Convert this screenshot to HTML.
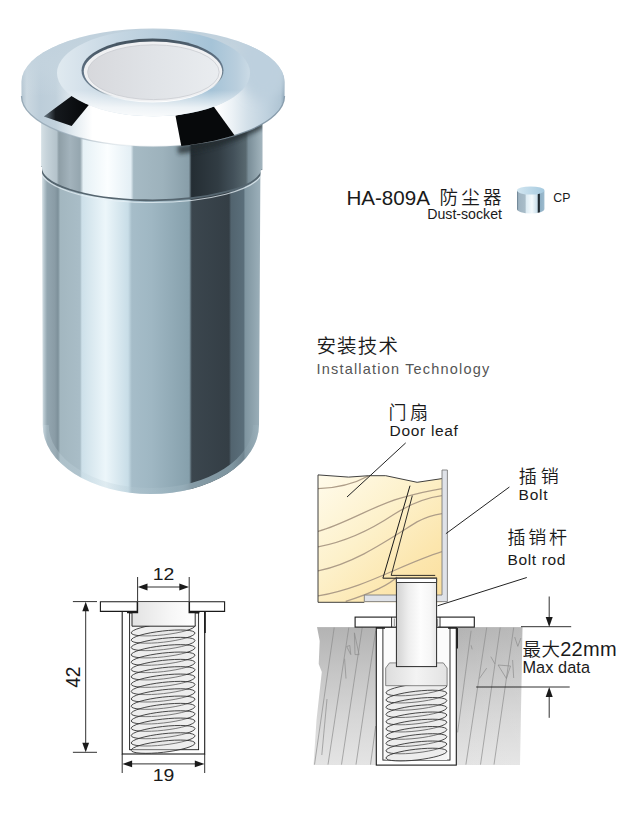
<!DOCTYPE html>
<html lang="zh">
<head>
<meta charset="utf-8">
<title>HA-809A 防尘器 Dust-socket</title>
<style>
html,body{margin:0;padding:0;background:#fff;}
body{width:630px;height:820px;overflow:hidden;position:relative;}
svg{position:absolute;left:0;top:0;display:block;}
text{font-family:"Liberation Sans","Noto Sans CJK SC",sans-serif;fill:#1a1a1a;}
.cj{font-family:"Liberation Sans","Noto Sans CJK SC",sans-serif;font-weight:350;}
</style>
</head>
<body>
<svg width="630" height="820" viewBox="0 0 630 820">
<defs>
<linearGradient id="gBody" gradientUnits="userSpaceOnUse" x1="41.6" y1="0" x2="260.6" y2="0">
<stop offset="0" stop-color="#dfe8ec"/>
<stop offset="0.012" stop-color="#b6c6ce"/>
<stop offset="0.025" stop-color="#93a6b0"/>
<stop offset="0.06" stop-color="#8a9ca6"/>
<stop offset="0.075" stop-color="#7d909a"/>
<stop offset="0.085" stop-color="#a3b7c0"/>
<stop offset="0.176" stop-color="#a9bdc7"/>
<stop offset="0.184" stop-color="#cde0e9"/>
<stop offset="0.292" stop-color="#ecf6fa"/>
<stop offset="0.395" stop-color="#c8dde7"/>
<stop offset="0.412" stop-color="#a6bdc9"/>
<stop offset="0.5" stop-color="#9fb7c3"/>
<stop offset="0.674" stop-color="#86a0ac"/>
<stop offset="0.686" stop-color="#3b464e"/>
<stop offset="0.856" stop-color="#343e45"/>
<stop offset="0.865" stop-color="#52646f"/>
<stop offset="0.922" stop-color="#5a6e7a"/>
<stop offset="0.93" stop-color="#7f95a0"/>
<stop offset="1" stop-color="#9cb0ba"/>
</linearGradient>
<linearGradient id="gNeck" gradientUnits="userSpaceOnUse" x1="41.2" y1="0" x2="262.4" y2="0">
<stop offset="0" stop-color="#d5e0e5"/>
<stop offset="0.025" stop-color="#c6d3da"/>
<stop offset="0.07" stop-color="#b4c3cb"/>
<stop offset="0.08" stop-color="#8e9ea6"/>
<stop offset="0.13" stop-color="#a3b3bc"/>
<stop offset="0.176" stop-color="#95a6af"/>
<stop offset="0.19" stop-color="#e6f1f6"/>
<stop offset="0.3" stop-color="#fbfeff"/>
<stop offset="0.405" stop-color="#e4eff5"/>
<stop offset="0.418" stop-color="#a6bac4"/>
<stop offset="0.55" stop-color="#9db2bc"/>
<stop offset="0.668" stop-color="#889ea9"/>
<stop offset="0.68" stop-color="#242d33"/>
<stop offset="0.8" stop-color="#313c43"/>
<stop offset="0.87" stop-color="#43515a"/>
<stop offset="0.925" stop-color="#58686f"/>
<stop offset="0.937" stop-color="#7a8e98"/>
<stop offset="1" stop-color="#a3b5be"/>
</linearGradient>
<linearGradient id="gRing" gradientUnits="userSpaceOnUse" x1="57" y1="0" x2="250" y2="0">
<stop offset="0" stop-color="#e0eaf0"/>
<stop offset="0.12" stop-color="#d6e2eb"/>
<stop offset="0.3" stop-color="#c6d7e3"/>
<stop offset="0.55" stop-color="#b6ccdb"/>
<stop offset="0.8" stop-color="#a5c3d7"/>
<stop offset="0.93" stop-color="#b9cedd"/>
<stop offset="1" stop-color="#cbdbe6"/>
</linearGradient>
<linearGradient id="gRingV" gradientUnits="userSpaceOnUse" x1="0" y1="30" x2="0" y2="116">
<stop offset="0" stop-color="#ffffff" stop-opacity="0"/>
<stop offset="0.7" stop-color="#ffffff" stop-opacity="0"/>
<stop offset="0.9" stop-color="#ffffff" stop-opacity="0.75"/>
<stop offset="1" stop-color="#ffffff" stop-opacity="0.9"/>
</linearGradient>
<linearGradient id="gFl" gradientUnits="userSpaceOnUse" x1="21.5" y1="0" x2="284.5" y2="0">
<stop offset="0" stop-color="#b2c3cf"/>
<stop offset="0.02" stop-color="#cbd8e1"/>
<stop offset="0.07" stop-color="#bccdd9"/>
<stop offset="0.13" stop-color="#c1d1dc"/>
<stop offset="0.2" stop-color="#e4ecf1"/>
<stop offset="0.27" stop-color="#ffffff"/>
<stop offset="0.74" stop-color="#ffffff"/>
<stop offset="0.80" stop-color="#ecf2f6"/>
<stop offset="0.86" stop-color="#d3e0e9"/>
<stop offset="0.93" stop-color="#c0d2df"/>
<stop offset="0.985" stop-color="#b0c5d4"/>
<stop offset="1" stop-color="#8fa6b8"/>
</linearGradient>
<linearGradient id="gDisc" gradientUnits="userSpaceOnUse" x1="82" y1="0" x2="223" y2="0">
<stop offset="0" stop-color="#d6d7db"/>
<stop offset="0.5" stop-color="#e0e3e7"/>
<stop offset="1" stop-color="#eaedf0"/>
</linearGradient>
<linearGradient id="gDiscRim" gradientUnits="userSpaceOnUse" x1="150" y1="38" x2="156" y2="103">
<stop offset="0" stop-color="#44535f"/>
<stop offset="0.5" stop-color="#64778a"/>
<stop offset="0.7" stop-color="#6f828f"/>
<stop offset="0.84" stop-color="#e6edf1"/>
<stop offset="1" stop-color="#ffffff"/>
</linearGradient>
<linearGradient id="gPatchL" gradientUnits="userSpaceOnUse" x1="44" y1="0" x2="90" y2="0">
<stop offset="0" stop-color="#6a7a86"/>
<stop offset="0.25" stop-color="#15191d"/>
<stop offset="1" stop-color="#050608"/>
</linearGradient>
<clipPath id="cBody"><path d="M41.2,100 L41.2,166 L42,167 L42.7,425 A108.15,69 0 0 0 259,425 L260.4,170.5 L262.4,169.5 L262.4,100 Z"/></clipPath>
<linearGradient id="gSw" gradientUnits="userSpaceOnUse" x1="517" y1="0" x2="544.4" y2="0">
<stop offset="0" stop-color="#62788a"/>
<stop offset="0.06" stop-color="#9fb4c2"/>
<stop offset="0.3" stop-color="#a9bdc9"/>
<stop offset="0.33" stop-color="#dcebf3"/>
<stop offset="0.55" stop-color="#f4fafd"/>
<stop offset="0.74" stop-color="#c8dde9"/>
<stop offset="0.77" stop-color="#1d262d"/>
<stop offset="0.82" stop-color="#28333b"/>
<stop offset="0.85" stop-color="#8fb0c5"/>
<stop offset="1" stop-color="#9dbbce"/>
</linearGradient>
<linearGradient id="gSwTop" gradientUnits="userSpaceOnUse" x1="517" y1="0" x2="544.4" y2="0">
<stop offset="0" stop-color="#d2e6f1"/>
<stop offset="1" stop-color="#a6cadf"/>
</linearGradient>
<linearGradient id="gWood" gradientUnits="userSpaceOnUse" x1="325" y1="478" x2="440" y2="598">
<stop offset="0" stop-color="#fffae8"/>
<stop offset="0.4" stop-color="#fdf1cb"/>
<stop offset="0.75" stop-color="#fce6ae"/>
<stop offset="1" stop-color="#fbdf9e"/>
</linearGradient>
<linearGradient id="gRod" gradientUnits="userSpaceOnUse" x1="396.6" y1="0" x2="436.6" y2="0">
<stop offset="0" stop-color="#d2d2d2"/>
<stop offset="0.3" stop-color="#eeeeee"/>
<stop offset="0.6" stop-color="#fdfdfd"/>
<stop offset="0.85" stop-color="#f6f6f6"/>
<stop offset="1" stop-color="#e6e6e6"/>
</linearGradient>
<linearGradient id="gFloor" gradientUnits="userSpaceOnUse" x1="0" y1="627" x2="0" y2="765">
<stop offset="0" stop-color="#b3b3b3"/>
<stop offset="0.3" stop-color="#c4c4c4"/>
<stop offset="0.65" stop-color="#d6d6d6"/>
<stop offset="1" stop-color="#e4e4e4"/>
</linearGradient>
<linearGradient id="gFloorR" gradientUnits="userSpaceOnUse" x1="456" y1="0" x2="522" y2="0">
<stop offset="0" stop-color="#ffffff" stop-opacity="0"/>
<stop offset="1" stop-color="#ffffff" stop-opacity="0.08"/>
</linearGradient>
<linearGradient id="gPl" gradientUnits="userSpaceOnUse" x1="385" y1="0" x2="448" y2="0">
<stop offset="0" stop-color="#dcdcdc"/>
<stop offset="0.5" stop-color="#f3f3f3"/>
<stop offset="1" stop-color="#e2e2e2"/>
</linearGradient>
<clipPath id="cWood"><path d="M318,474.9 L348.6,477.1 L368.6,475.7 L385.7,475.7 L417.1,482.3 L442,478.6 L442,602.3 L318,602.3 Z"/></clipPath>
<clipPath id="cFloor"><path d="M317,627.1 L522.5,627.1 L520,765 L313.5,765 L316.5,720 L321.8,672 L318.7,664 L319.7,641 Z"/></clipPath>
<linearGradient id="gPl2" gradientUnits="userSpaceOnUse" x1="132" y1="0" x2="195" y2="0">
<stop offset="0" stop-color="#e3e3e3"/>
<stop offset="0.6" stop-color="#f6f6f6"/>
<stop offset="1" stop-color="#ffffff"/>
</linearGradient>
<filter id="fBlur" x="-50%" y="-50%" width="200%" height="200%"><feGaussianBlur stdDeviation="6"/></filter>
<clipPath id="cFl"><path d="M21.5,82 A131.5,53.5 0 0 1 284.5,82 L284.5,96 A131.5,50.5 0 0 1 21.5,96 Z"/></clipPath>
<filter id="fBlur2" x="-20%" y="-100%" width="140%" height="300%"><feGaussianBlur stdDeviation="2"/></filter>
<linearGradient id="gEdge" gradientUnits="userSpaceOnUse" x1="21.5" y1="0" x2="284.5" y2="0">
<stop offset="0" stop-color="#8ea2b0" stop-opacity="0.9"/>
<stop offset="0.25" stop-color="#9aabb7" stop-opacity="0.6"/>
<stop offset="0.4" stop-color="#c5d0d8" stop-opacity="0.25"/>
<stop offset="0.58" stop-color="#c5d0d8" stop-opacity="0.25"/>
<stop offset="0.8" stop-color="#6d808d" stop-opacity="0.8"/>
<stop offset="1" stop-color="#8197a8" stop-opacity="0.9"/>
</linearGradient>
<linearGradient id="gRim" gradientUnits="userSpaceOnUse" x1="42" y1="0" x2="260" y2="0">
<stop offset="0" stop-color="#cfe0e8" stop-opacity="0.25"/>
<stop offset="0.62" stop-color="#a9bfca" stop-opacity="0.3"/>
<stop offset="0.68" stop-color="#8aa0ab" stop-opacity="0.95"/>
<stop offset="0.87" stop-color="#8299a4" stop-opacity="0.95"/>
<stop offset="0.93" stop-color="#8aa0ab" stop-opacity="0.4"/>
<stop offset="1" stop-color="#a9bfca" stop-opacity="0.2"/>
</linearGradient>
<linearGradient id="gFlV" gradientUnits="userSpaceOnUse" x1="0" y1="28" x2="0" y2="96">
<stop offset="0" stop-color="#bfd0dc" stop-opacity="1"/>
<stop offset="0.45" stop-color="#c3d3de" stop-opacity="0.95"/>
<stop offset="0.75" stop-color="#c8d7e1" stop-opacity="0.35"/>
<stop offset="1" stop-color="#d0dde6" stop-opacity="0"/>
</linearGradient>
<!--DEFS-->
</defs>
<rect width="630" height="820" fill="#ffffff"/>
<g id="product">
<!-- body -->
<path d="M41.2,100 L41.2,166 L42,167 L42.7,425 A108.15,69 0 0 0 259,425 L260.4,170.5 L262.4,169.5 L262.4,100 Z" fill="url(#gBody)"/>
<g clip-path="url(#cBody)">
<!-- neck -->
<path d="M41.2,100 L41.2,166 A110.6,32.5 0 0 0 262.4,169.5 L262.4,100 Z" fill="url(#gNeck)"/>
<path d="M41.2,166 A110.6,32.5 0 0 0 262.4,169.5" fill="none" stroke="#55656f" stroke-width="1.8"/>
<path d="M41.2,168.2 A110.6,32.5 0 0 0 262.4,171.7" fill="none" stroke="#e8f2f7" stroke-width="1.1" opacity="0.75"/>
<path d="M178,150 C205,147 235,139 262,124" fill="none" stroke="#20292f" stroke-width="8" opacity="0.75" filter="url(#fBlur2)"/>
<!-- bottom rim light -->
<path d="M42.7,425 A108.15,69 0 0 0 259,425" fill="none" stroke="url(#gRim)" stroke-width="12"/>
</g>
<!-- flange -->
<path d="M21.5,82 A131.5,53.5 0 0 1 284.5,82 L284.5,96 A131.5,50.5 0 0 1 21.5,96 Z" fill="url(#gFl)"/>
<path d="M21.5,96 A131.5,50.5 0 0 0 284.5,96" fill="none" stroke="url(#gEdge)" stroke-width="1.3"/>
<path d="M21.5,82 A131.5,53.5 0 0 1 284.5,82 L284.5,96 A131.5,50.5 0 0 1 21.5,96 Z" fill="url(#gFlV)"/>
<g clip-path="url(#cFl)"><ellipse cx="263" cy="66" rx="24" ry="34" fill="#bdd0de" filter="url(#fBlur)"/></g>
<!-- dark reflections -->
<path d="M71.6,95.9 L89.8,103.8 L71.6,126 L43.8,116.5 Z" fill="url(#gPatchL)"/>
<path d="M175.5,115.8 L213.7,106.5 L234.5,135.3 C216,141 199,144.2 181.3,146 Z" fill="#07090b"/>
<!-- flat ring -->
<ellipse cx="153.5" cy="73" rx="96.5" ry="43.3" fill="url(#gRing)"/>
<ellipse cx="153.5" cy="73" rx="96.5" ry="43.3" fill="url(#gRingV)"/>
<!-- disc -->
<ellipse cx="152.5" cy="70.6" rx="71" ry="32" fill="url(#gDiscRim)"/>
<ellipse cx="153" cy="71.5" rx="69.2" ry="30" fill="#eff0f2"/>
<ellipse cx="153.4" cy="72.2" rx="65.8" ry="27.4" fill="url(#gDisc)" stroke="#c9ccd1" stroke-width="0.8"/>
</g>

<g id="title">
<text x="346.4" y="204.6" font-size="20" textLength="83.6" lengthAdjust="spacingAndGlyphs">HA-809A</text>
<text class="cj" x="439.6" y="203.6" font-size="18.5" textLength="62" lengthAdjust="spacing">防尘器</text>
<text x="427.2" y="218.6" font-size="14" textLength="74.8" lengthAdjust="spacingAndGlyphs">Dust-socket</text>
<text x="553.3" y="202.1" font-size="12" textLength="17.1" lengthAdjust="spacingAndGlyphs">CP</text>
<!-- finish swatch icon -->
<g id="swatch">
<path d="M517,190.7 L517,209 A13.7,4.6 0 0 0 544.4,209 L544.4,190.7 Z" fill="url(#gSw)"/>
<ellipse cx="530.7" cy="190.5" rx="13.7" ry="4.1" fill="url(#gSwTop)"/>
</g>
</g>

<g id="header">
<text class="cj" x="316.4" y="352.6" font-size="19.5" textLength="81.5" lengthAdjust="spacing" style="fill:#1c1c1c">安装技术</text>
<text x="316.5" y="374.2" font-size="14.5" textLength="172.8" lengthAdjust="spacing" style="fill:#555555">Installation Technology</text>
</g>

<g id="install">
<!-- door leaf -->
<path d="M318,474.9 L348.6,477.1 L368.6,475.7 L385.7,475.7 L417.1,482.3 L442,478.6 L442,602.3 L318,602.3 Z" fill="url(#gWood)"/>
<g clip-path="url(#cWood)" fill="none" stroke="#ae9d88" stroke-width="1.25">
<path d="M318,488.6 C330,488.4 350,486 369.5,475.5"/>
<path d="M318,531.4 C345,524 375,505 400.5,498.1 C415,494 430,490.5 442,488.6"/>
<path d="M318,546.9 C350,541 375,527 393.3,514.8 C410,504 425,498 442,495.7"/>
<path d="M318,571 C355,563 385,542 417,521.9 C428,516 436,514.5 442,513.6"/>
<path d="M318,596 C365,588 400,565 442,551.7"/>
<path d="M345.7,601.4 C375,592 390,584 397,577"/>
</g>
<path d="M318,602.3 L318,474.9 L348.6,477.1 L368.6,475.7 L385.7,475.7 L417.1,482.3 L442,478.6" fill="none" stroke="#2a2a2a" stroke-width="0.9"/>
<path d="M318,602.3 L364.3,602.3" fill="none" stroke="#2a2a2a" stroke-width="0.9"/>
<!-- bolt plate L -->
<path d="M442,470 L447.4,470 L447.4,601.6 L364.3,601.6 L364.3,595 L442,595 Z" fill="#dfe2e8" stroke="#7d7d7d" stroke-width="0.9"/>
<!-- mortise lines -->
<path d="M410,485.7 L382.9,578.2 L437,578.2" fill="none" stroke="#1a1a1a" stroke-width="1"/>
<path d="M412.3,495.7 L391.2,575.4 L435.2,575.4" fill="none" stroke="#1a1a1a" stroke-width="0.9"/>
<!-- floor -->
<g clip-path="url(#cFloor)">
<rect x="310" y="627.1" width="215" height="140" fill="url(#gFloor)"/>
<rect x="456" y="627.1" width="70" height="140" fill="url(#gFloorR)"/>
<g fill="none" stroke="#8d8d8d" stroke-width="0.7">
<path d="M334.2,627.6 L314.5,764.6"/>
<path d="M348.8,627.6 L328,764.6"/>
<path d="M362.2,627.6 L341.5,764.6"/>
<path d="M375.7,630.7 L356,764.6"/>
<path d="M327,699 L321.8,755"/>
<path d="M375.7,726 L370.5,764.6"/>
<path d="M346.7,646.5 L350.8,654.6 L349.8,645.5 Z M354.4,632.8 L355,654.6 L359.1,654.6 Z M344.6,658.8 L346,678.5"/>
<path d="M471.1,630.7 L457.6,732.4"/>
<path d="M486.7,627.6 L465.9,764.6"/>
<path d="M500.2,627.6 L480.5,764.6"/>
<path d="M513.7,627.6 L494,764.6"/>
<path d="M490.8,656.7 L495,664 M479.4,678.5 L486.7,668.1 M498.1,665 L506.4,678.5 L510.5,666 Z M514.7,637 L517.8,646.3 L520.9,638 M471.1,645.3 L472.2,649.4 M512.6,660 L513.7,678"/>
</g>
</g>
<!-- socket tube -->
<rect x="376.3" y="627.1" width="80" height="138" fill="#ffffff" stroke="#1a1a1a" stroke-width="1.1"/>
<rect x="382.9" y="627.1" width="67.1" height="133" fill="#fbfbfb" stroke="#1a1a1a" stroke-width="0.9"/>
<path d="M376.3,628 L385,628 M448,628 L456.3,628" stroke="#1a1a1a" stroke-width="1.6"/>
<path d="M457.2,628 L457.2,648.4" stroke="#1a1a1a" stroke-width="1.5"/>
<rect x="385.7" y="685" width="61.4" height="75" fill="#f4f4f4"/>
<!-- spring -->
<g fill="#dedede" fill-opacity="0.3" stroke="#333" stroke-width="0.85">
<ellipse cx="416.4" cy="689.4" rx="30.6" ry="5.4" transform="rotate(-6.5 416.4 689.4)"/>
<ellipse cx="416.4" cy="696.6" rx="30.6" ry="5.4" transform="rotate(-6.5 416.4 696.6)"/>
<ellipse cx="416.4" cy="703.9" rx="30.6" ry="5.4" transform="rotate(-6.5 416.4 703.9)"/>
<ellipse cx="416.4" cy="711.1" rx="30.6" ry="5.4" transform="rotate(-6.5 416.4 711.1)"/>
<ellipse cx="416.4" cy="718.4" rx="30.6" ry="5.4" transform="rotate(-6.5 416.4 718.4)"/>
<ellipse cx="416.4" cy="725.6" rx="30.6" ry="5.4" transform="rotate(-6.5 416.4 725.6)"/>
<ellipse cx="416.4" cy="732.9" rx="30.6" ry="5.4" transform="rotate(-6.5 416.4 732.9)"/>
<ellipse cx="416.4" cy="740.1" rx="30.6" ry="5.4" transform="rotate(-6.5 416.4 740.1)"/>
<ellipse cx="416.4" cy="747.4" rx="30.6" ry="5.4" transform="rotate(-6.5 416.4 747.4)"/>
<ellipse cx="416.4" cy="754.6" rx="30.6" ry="5.4" transform="rotate(-6.5 416.4 754.6)"/>
</g>
<!-- plunger -->
<path d="M389.5,662.9 L443.3,662.9 L447.1,668 L447.1,685.7 L385.7,685.7 L385.7,668 Z" fill="url(#gPl)" stroke="#6a6a6a" stroke-width="0.8"/>
<!-- socket plate -->
<rect x="355.1" y="617.1" width="119.2" height="10" fill="#ffffff" stroke="#1a1a1a" stroke-width="1.1"/>
<path d="M391.6,617.1 L391.6,627.1 M440,617.1 L440,627.1" stroke="#1a1a1a" stroke-width="0.9"/>
<path d="M394.3,618.5 L394.3,626 M437.6,618.5 L437.6,626" stroke="#555" stroke-width="0.7"/>
<!-- bolt rod -->
<rect x="396.4" y="578.3" width="40.2" height="88.3" fill="url(#gRod)" stroke="#2a2a2a" stroke-width="1"/>
<path d="M396.4,578.3 L436.6,578.3 L436.6,582.5 L396.4,582.5 Z" fill="#ffffff" stroke="#2a2a2a" stroke-width="0.9"/>
<!-- leaders -->
<g fill="none" stroke="#222" stroke-width="1">
<path d="M405.7,442.9 L347,497"/>
<path d="M509.4,487 L445.9,533.7"/>
<path d="M526.8,577.5 L437.6,605.8"/>
</g>
<!-- dimension -->
<g fill="none" stroke="#1a1a1a" stroke-width="0.9">
<path d="M521,626.7 L571.2,626.7"/>
<path d="M476.2,687 L569.7,687"/>
<path d="M549.2,596.5 L549.2,620"/>
<path d="M549.2,694 L549.2,717.8"/>
</g>
<path d="M549.2,627 L545.7,617 L552.7,617 Z" fill="#1a1a1a"/>
<path d="M549.2,687 L545.7,697 L552.7,697 Z" fill="#1a1a1a"/>
<!-- labels -->
<text class="cj" x="388.6" y="418.6" font-size="18" textLength="39.5" lengthAdjust="spacing">门扇</text>
<text x="389.6" y="435.5" font-size="15.5" textLength="68.3" lengthAdjust="spacing">Door leaf</text>
<text class="cj" x="518.8" y="482.8" font-size="18" textLength="40" lengthAdjust="spacing">插销</text>
<text x="518.6" y="499.8" font-size="15.5" textLength="29" lengthAdjust="spacing">Bolt</text>
<text class="cj" x="507.4" y="544.2" font-size="18" textLength="59.5" lengthAdjust="spacing">插销杆</text>
<text x="507.4" y="564.8" font-size="15.5" textLength="58" lengthAdjust="spacing">Bolt rod</text>
<text x="522.6" y="656" font-size="20" textLength="94" lengthAdjust="spacing"><tspan class="cj" font-size="18.5">最大</tspan>22mm</text>
<text x="522.4" y="672.8" font-size="16.3" textLength="67.6" lengthAdjust="spacing">Max data</text>
</g>

<g id="dim">
<!-- tube -->
<rect x="122.2" y="611.4" width="82.5" height="142.6" fill="#ffffff" stroke="#1a1a1a" stroke-width="1.1"/>
<rect x="129.6" y="613" width="69" height="136.7" fill="#f7f7f7" stroke="#1a1a1a" stroke-width="0.9"/>
<path d="M205,612 L205,633" stroke="#1a1a1a" stroke-width="1.6"/>
<g fill="#dedede" fill-opacity="0.35" stroke="#333" stroke-width="0.85">
<ellipse cx="163.1" cy="629.3" rx="32.1" ry="5.6" transform="rotate(-6.5 163.1 629.3)"/>
<ellipse cx="163.1" cy="636.6" rx="32.1" ry="5.6" transform="rotate(-6.5 163.1 636.6)"/>
<ellipse cx="163.1" cy="644.0" rx="32.1" ry="5.6" transform="rotate(-6.5 163.1 644.0)"/>
<ellipse cx="163.1" cy="651.3" rx="32.1" ry="5.6" transform="rotate(-6.5 163.1 651.3)"/>
<ellipse cx="163.1" cy="658.7" rx="32.1" ry="5.6" transform="rotate(-6.5 163.1 658.7)"/>
<ellipse cx="163.1" cy="666.0" rx="32.1" ry="5.6" transform="rotate(-6.5 163.1 666.0)"/>
<ellipse cx="163.1" cy="673.3" rx="32.1" ry="5.6" transform="rotate(-6.5 163.1 673.3)"/>
<ellipse cx="163.1" cy="680.7" rx="32.1" ry="5.6" transform="rotate(-6.5 163.1 680.7)"/>
<ellipse cx="163.1" cy="688.0" rx="32.1" ry="5.6" transform="rotate(-6.5 163.1 688.0)"/>
<ellipse cx="163.1" cy="695.4" rx="32.1" ry="5.6" transform="rotate(-6.5 163.1 695.4)"/>
<ellipse cx="163.1" cy="702.7" rx="32.1" ry="5.6" transform="rotate(-6.5 163.1 702.7)"/>
<ellipse cx="163.1" cy="710.0" rx="32.1" ry="5.6" transform="rotate(-6.5 163.1 710.0)"/>
<ellipse cx="163.1" cy="717.4" rx="32.1" ry="5.6" transform="rotate(-6.5 163.1 717.4)"/>
<ellipse cx="163.1" cy="724.7" rx="32.1" ry="5.6" transform="rotate(-6.5 163.1 724.7)"/>
<ellipse cx="163.1" cy="732.1" rx="32.1" ry="5.6" transform="rotate(-6.5 163.1 732.1)"/>
<ellipse cx="163.1" cy="739.4" rx="32.1" ry="5.6" transform="rotate(-6.5 163.1 739.4)"/>
<ellipse cx="163.1" cy="746.7" rx="32.1" ry="5.6" transform="rotate(-6.5 163.1 746.7)"/>
</g>
<!-- plate -->
<path d="M100.4,601.8 L224.6,601.8 L224.6,611.4 L100.4,611.4 Z" fill="#ffffff" stroke="#1a1a1a" stroke-width="1.1"/>
<!-- plunger -->
<path d="M137.4,602.3 L189.3,602.3 L189.3,612.4 L195.2,612.4 L195.2,626 L132,626 L132,612.4 L137.4,612.4 Z" fill="url(#gPl2)"/>
<path d="M137.4,601.8 L137.4,612.4 L127,612.4 M189.3,601.8 L189.3,612.4 L199.5,612.4" fill="none" stroke="#1a1a1a" stroke-width="1.5"/>
<path d="M132,613 L132,626.2 L195.2,626.2 L195.2,613" fill="none" stroke="#2a2a2a" stroke-width="1"/>
<!-- dims -->
<g fill="none" stroke="#1a1a1a" stroke-width="0.9">
<path d="M137.6,577 L137.6,601 M189.2,577 L189.2,601"/>
<path d="M144,587 L183,587"/>
<path d="M72.9,601.6 L97,601.6 M72.9,752.3 L97,752.3"/>
<path d="M85.7,608 L85.7,746"/>
<path d="M122.2,754 L122.2,773 M204.7,754 L204.7,773"/>
<path d="M129,763.9 L198,763.9"/>
</g>
<g fill="#1a1a1a">
<path d="M137.8,587 L147.5,583.6 L147.5,590.4 Z"/>
<path d="M189,587 L179.3,583.6 L179.3,590.4 Z"/>
<path d="M85.7,601.8 L82.3,611.3 L89.1,611.3 Z"/>
<path d="M85.7,752.2 L82.3,742.7 L89.1,742.7 Z"/>
<path d="M122.4,763.9 L132.1,760.5 L132.1,767.3 Z"/>
<path d="M204.5,763.9 L194.8,760.5 L194.8,767.3 Z"/>
</g>
<text x="152.7" y="580" font-size="17.2" textLength="21.6" lengthAdjust="spacingAndGlyphs">12</text>
<text x="152.7" y="781.4" font-size="17.2" textLength="21.6" lengthAdjust="spacingAndGlyphs">19</text>
<text x="0" y="0" font-size="21" textLength="21.2" lengthAdjust="spacingAndGlyphs" transform="translate(80,687.8) rotate(-90)">42</text>
</g>
</svg>
</body>
</html>
